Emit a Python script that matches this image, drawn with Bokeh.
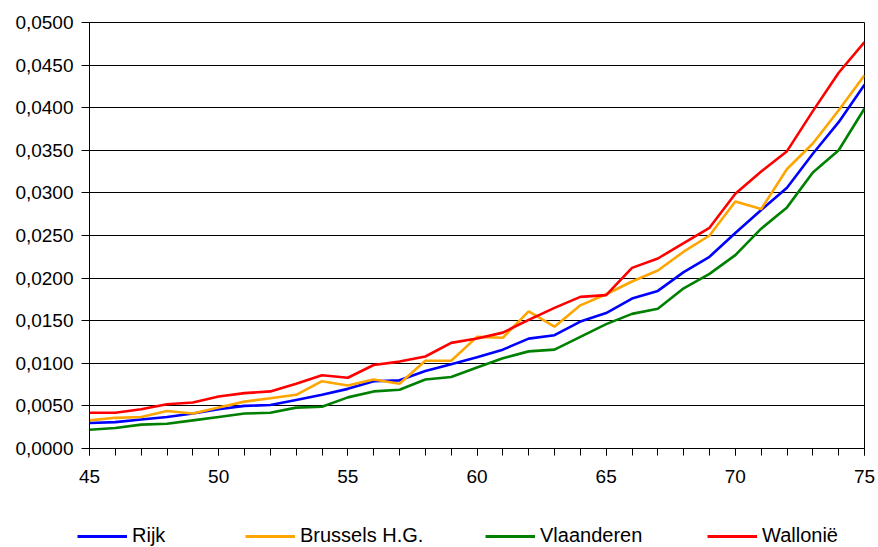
from bokeh.plotting import figure
from bokeh.layouts import column
from bokeh.models import (Range1d, FixedTicker, CustomJSTickFormatter, Legend, LegendItem)
from bokeh.embed import file_html
from bokeh.resources import INLINE

ages = list(range(45, 76))

rijk = [0.0030, 0.0031, 0.0034, 0.0037, 0.0041, 0.0046, 0.0050, 0.0051, 0.0057, 0.0063,
        0.0070, 0.0079, 0.0080, 0.0091, 0.0099, 0.0107, 0.0116, 0.0129, 0.0133, 0.0149,
        0.0159, 0.0176, 0.0185, 0.0207, 0.0225, 0.0253, 0.0280, 0.0306, 0.0346, 0.0383, 0.0427]
brussel = [0.0033, 0.0036, 0.0037, 0.0044, 0.0041, 0.0048, 0.0055, 0.0059, 0.0063, 0.0079,
           0.0074, 0.0081, 0.0076, 0.0103, 0.0103, 0.0131, 0.0130, 0.0161, 0.0143, 0.0168,
           0.0181, 0.0196, 0.0209, 0.0231, 0.0250, 0.0290, 0.0281, 0.0328, 0.0358, 0.0397, 0.0438]
vlaanderen = [0.0022, 0.0024, 0.0028, 0.0029, 0.0033, 0.0037, 0.0041, 0.0042, 0.0048, 0.0049,
              0.0060, 0.0067, 0.0069, 0.0081, 0.0084, 0.0095, 0.0106, 0.0114, 0.0116, 0.0131,
              0.0146, 0.0158, 0.0164, 0.0188, 0.0205, 0.0227, 0.0258, 0.0283, 0.0324, 0.0350, 0.0399]
wallonie = [0.0042, 0.0042, 0.0046, 0.0052, 0.0054, 0.0061, 0.0065, 0.0067, 0.0076, 0.0086,
            0.0083, 0.0098, 0.0102, 0.0108, 0.0124, 0.0129, 0.0136, 0.0151, 0.0165, 0.0178,
            0.0180, 0.0212, 0.0223, 0.0241, 0.0259, 0.0299, 0.0325, 0.0349, 0.0396, 0.0441, 0.0477]

series_names = ["Rijk", "Brussels H.G.", "Vlaanderen", "Wallonië"]
series_values = [rijk, brussel, vlaanderen, wallonie]
series_colors = ["#0000FF", "#FFA500", "#008000", "#FF0000"]

x_major = [45, 50, 55, 60, 65, 70, 75]
y_ticks = [i * 0.005 for i in range(11)]

FONT = "Liberation Sans"

# ---- main chart ----
p = figure(width=878, height=512, output_backend="svg", toolbar_location=None,
           x_range=Range1d(45, 75), y_range=Range1d(0, 0.05),
           min_border_left=89, min_border_right=14, min_border_top=22, min_border_bottom=64)
p.frame_align = False
p.background_fill_color = "white"
p.border_fill_color = "white"
p.outline_line_color = "black"
p.outline_line_width = 1

p.xgrid.visible = False
p.ygrid.grid_line_color = "black"
p.ygrid.grid_line_width = 1
p.ygrid.ticker = FixedTicker(ticks=y_ticks)

p.xaxis.ticker = FixedTicker(ticks=x_major, minor_ticks=ages)
p.xaxis.major_tick_in = 0
p.xaxis.major_tick_out = 7
p.xaxis.minor_tick_in = 0
p.xaxis.minor_tick_out = 7
p.xaxis.minor_tick_line_color = "black"
p.xaxis.major_label_standoff = 14

p.yaxis.ticker = FixedTicker(ticks=y_ticks)
p.yaxis.formatter = CustomJSTickFormatter(code="return tick.toFixed(4).replace('.', ',');")
p.yaxis.major_tick_in = 0
p.yaxis.major_tick_out = 8
p.yaxis.minor_tick_line_color = None
p.yaxis.major_label_standoff = 8

for ax in (p.xaxis, p.yaxis):
    ax.axis_line_color = "black"
    ax.axis_line_width = 1
    ax.major_tick_line_color = "black"
    ax.major_label_text_font = FONT
    ax.major_label_text_font_size = "19px"
    ax.major_label_text_color = "black"

for name, vals, col in zip(series_names, series_values, series_colors):
    p.line(ages, vals, line_color=col, line_width=2.6)

# ---- legend strip (same series, drawn outside its visible range) ----
q = figure(width=878, height=35, output_backend="svg", toolbar_location=None,
           x_range=Range1d(45, 75), y_range=Range1d(1, 2),
           x_axis_type=None, y_axis_type=None,
           min_border_left=0, min_border_right=0, min_border_top=0, min_border_bottom=0)
q.frame_align = False
q.outline_line_color = None
q.grid.visible = False
q.background_fill_color = "white"
q.border_fill_color = "white"

legend_x = [77, 245, 485, 707]
for name, vals, col, lx in zip(series_names, series_values, series_colors, legend_x):
    r = q.line(ages, vals, line_color=col, line_width=3)
    lg = Legend(items=[LegendItem(label=name, renderers=[r])], location=(lx, 0),
                orientation="horizontal", margin=0, padding=0, spacing=0,
                border_line_color=None, background_fill_alpha=0,
                glyph_width=50, glyph_height=20, label_standoff=5,
                label_text_font=FONT, label_text_font_size="20px", label_text_color="black",
                label_height=20)
    q.add_layout(lg)

layout = column(p, q, spacing=0)
open("out.html", "w").write(file_html(layout, INLINE))
